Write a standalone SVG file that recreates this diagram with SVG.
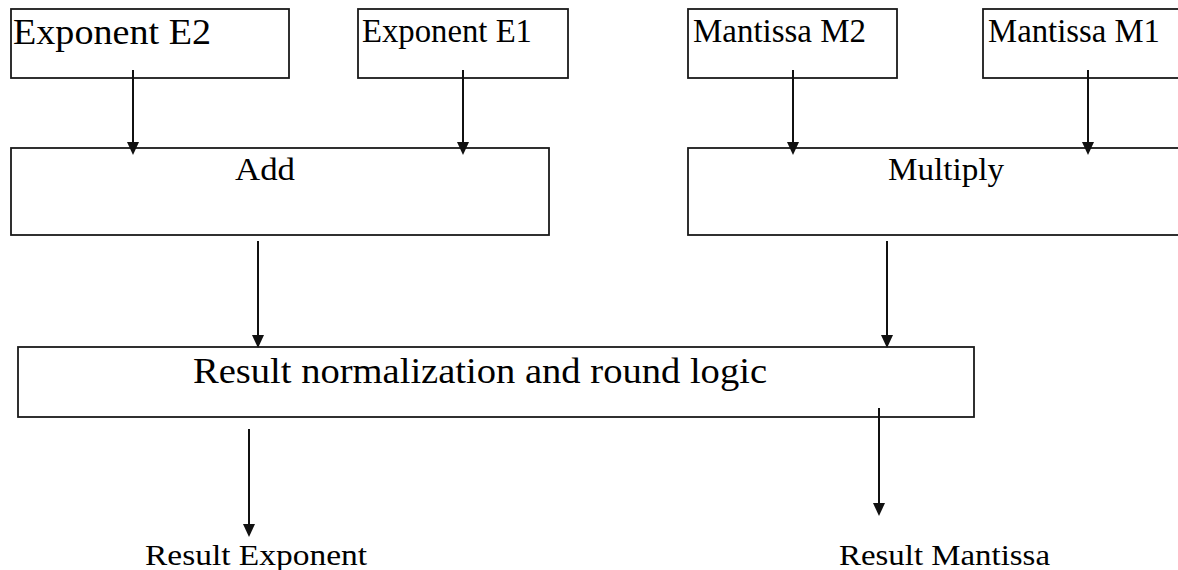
<svg xmlns="http://www.w3.org/2000/svg" width="1178" height="570" viewBox="0 0 1178 570">
  <style>
    .box { fill: #ffffff; stroke: #1a1a1a; stroke-width: 1.8; }
    .lbl { font-family: "Liberation Serif", "Times New Roman", serif; fill: #000000; }
    .conn { stroke: #111111; stroke-width: 2; fill: none; marker-end: url(#arrow); }
  </style>
  <defs>
    <marker id="arrow" markerUnits="userSpaceOnUse" markerWidth="14" markerHeight="12" refX="7" refY="6" orient="auto">
      <path d="M0,0 L13,6 L0,12 Z" fill="#111111"/>
    </marker>
  </defs>
  <rect x="0" y="0" width="1178" height="570" fill="#ffffff"/>

  <g id="node-exponent-e2">
    <rect class="box" x="11" y="9" width="278" height="69"/>
    <text class="lbl" x="13" y="44" font-size="36" textLength="198" lengthAdjust="spacingAndGlyphs">Exponent E2</text>
  </g>
  <g id="node-exponent-e1">
    <rect class="box" x="358" y="9" width="210" height="69"/>
    <text class="lbl" x="362" y="42" font-size="33" textLength="170" lengthAdjust="spacingAndGlyphs">Exponent E1</text>
  </g>
  <g id="node-mantissa-m2">
    <rect class="box" x="688" y="9" width="209" height="69"/>
    <text class="lbl" x="693" y="42" font-size="33" textLength="173" lengthAdjust="spacingAndGlyphs">Mantissa M2</text>
  </g>
  <g id="node-mantissa-m1">
    <rect class="box" x="983" y="9" width="210" height="69"/>
    <text class="lbl" x="988" y="42" font-size="33" textLength="172" lengthAdjust="spacingAndGlyphs">Mantissa M1</text>
  </g>
  <g id="node-add">
    <rect class="box" x="11" y="148" width="538" height="87"/>
    <text class="lbl" x="235" y="180" font-size="32" textLength="60" lengthAdjust="spacingAndGlyphs">Add</text>
  </g>
  <g id="node-multiply">
    <rect class="box" x="688" y="148" width="505" height="87"/>
    <text class="lbl" x="888" y="180" font-size="31" textLength="116" lengthAdjust="spacingAndGlyphs">Multiply</text>
  </g>
  <g id="node-result-logic">
    <rect class="box" x="18" y="347" width="956" height="70"/>
    <text class="lbl" x="193" y="383" font-size="36" textLength="574" lengthAdjust="spacingAndGlyphs">Result normalization and round logic</text>
  </g>
  <g id="node-result-exponent">
    <text class="lbl" x="145" y="565" font-size="30" textLength="222" lengthAdjust="spacingAndGlyphs">Result Exponent</text>
  </g>
  <g id="node-result-mantissa">
    <text class="lbl" x="839" y="565" font-size="30" textLength="211" lengthAdjust="spacingAndGlyphs">Result Mantissa</text>
  </g>

  <g id="connectors">
    <line class="conn" x1="133" y1="70" x2="133" y2="149"/>
    <line class="conn" x1="463" y1="70" x2="463" y2="149"/>
    <line class="conn" x1="793" y1="70" x2="793" y2="149"/>
    <line class="conn" x1="1088" y1="70" x2="1088" y2="149"/>
    <line class="conn" x1="258" y1="241" x2="258" y2="342"/>
    <line class="conn" x1="887" y1="241" x2="887" y2="342"/>
    <line class="conn" x1="249" y1="429" x2="249" y2="531"/>
    <line class="conn" x1="879" y1="408" x2="879" y2="510"/>
  </g>
</svg>
